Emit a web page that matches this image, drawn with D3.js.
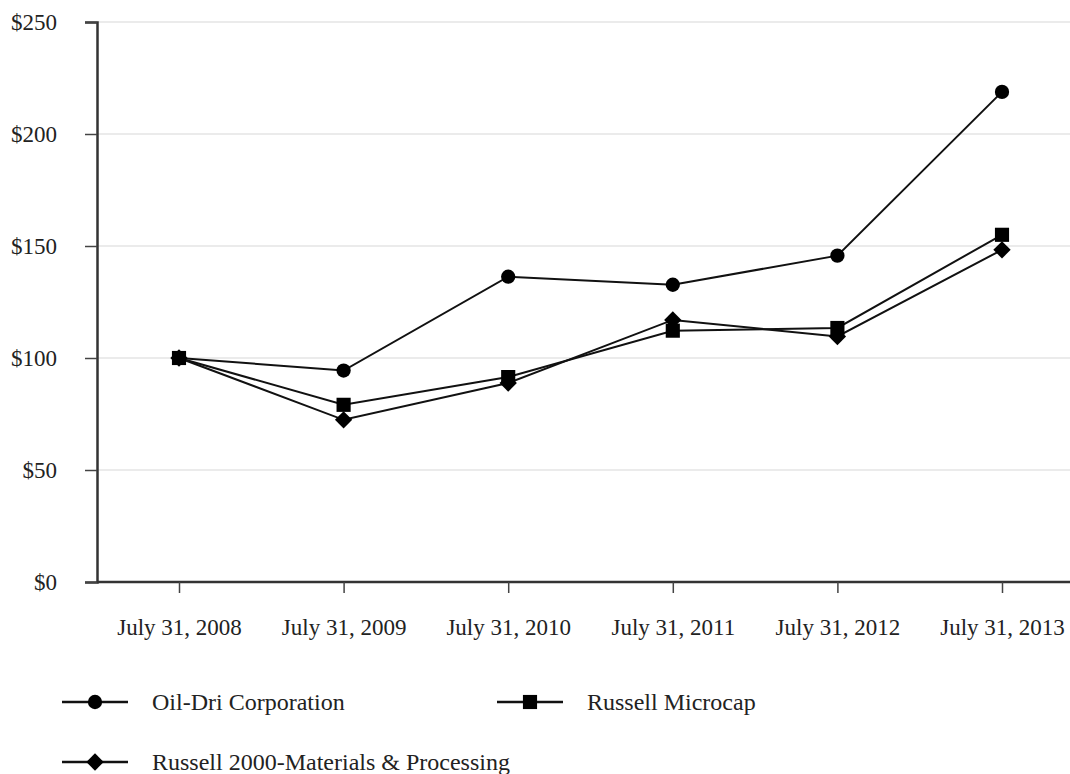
<!DOCTYPE html>
<html><head><meta charset="utf-8">
<script src="https://cdn.jsdelivr.net/npm/d3@7"></script>
<style>body{margin:0;background:#fff}svg{display:block}text{font-family:"Liberation Serif","Times New Roman",serif;fill:#222}</style>
</head><body>
<svg id="c" width="1070" height="774"></svg>
<script>
const categories = ["July 31, 2008","July 31, 2009","July 31, 2010","July 31, 2011","July 31, 2012","July 31, 2013"];
const oilDri = [100, 94.4, 136.3, 132.7, 145.7, 218.8];
const microcap = [100, 79.1, 91.5, 112.2, 113.4, 155.0];
const materials = [100, 72.4, 88.8, 117.0, 109.6, 148.3];
const yTicks = [0, 50, 100, 150, 200, 250];
const seriesNames = ["Oil-Dri Corporation", "Russell Microcap", "Russell 2000-Materials & Processing"];

const FS = 23;
const series = [
  {name: seriesNames[0], values: oilDri, sym: d3.symbolCircle, size: 160, rot: 0},
  {name: seriesNames[1], values: microcap, sym: d3.symbolSquare, size: 200, rot: 0},
  {name: seriesNames[2], values: materials, sym: d3.symbolSquare, size: 150, rot: 45}
];

const svg = d3.select("#c");
const L = 97, T = 22, B = 582;
const x = d3.scalePoint().domain(categories).range([179, 1002]);
const y = d3.scaleLinear().domain([0, 250]).range([B, T]);

svg.append("g").selectAll("line").data(yTicks.filter(d => d > 0)).join("line")
  .attr("x1", L).attr("x2", 1070).attr("y1", d => y(d)).attr("y2", d => y(d))
  .attr("stroke", "#e4e4e4").attr("stroke-width", 1.5);

const yAxis = svg.append("g").attr("transform", `translate(${L},0)`)
  .call(d3.axisLeft(y).tickValues(yTicks).tickFormat(d => "$" + d).tickSize(12).tickPadding(28));
yAxis.select(".domain").attr("stroke", "#333").attr("stroke-width", 2.5);
yAxis.selectAll(".tick line").attr("stroke", "#444").attr("stroke-width", 1.5);
yAxis.selectAll("text").attr("font-size", FS).attr("fill", "#2a2a2a").attr("font-family", "Liberation Serif");

const xAxis = svg.append("g").attr("transform", `translate(0,${B})`)
  .call(d3.axisBottom(x).tickSize(11).tickPadding(26).tickSizeOuter(0));
xAxis.select(".domain").attr("d", `M${L},0H1070`).attr("stroke", "#333").attr("stroke-width", 2.5);
xAxis.selectAll(".tick line").attr("stroke", "#444").attr("stroke-width", 1.5);
xAxis.selectAll("text").attr("font-size", FS).attr("fill", "#2a2a2a").attr("font-family", "Liberation Serif");

const line = d3.line().x((d, i) => x(categories[i])).y(d => y(d));
series.forEach(s => {
  svg.append("path").datum(s.values).attr("d", line)
    .attr("fill", "none").attr("stroke", "#111").attr("stroke-width", 2);
});
series.forEach(s => {
  svg.append("g").selectAll("path").data(s.values).join("path")
    .attr("transform", (d, i) => `translate(${x(categories[i])},${y(d)}) rotate(${s.rot})`)
    .attr("d", d3.symbol().type(s.sym).size(s.size)).attr("fill", "#000");
});

const legendPos = [[62, 702], [497, 702], [62, 762]];
series.forEach((s, i) => {
  const [lx, ly] = legendPos[i];
  const g = svg.append("g").attr("transform", `translate(${lx},${ly})`);
  g.append("line").attr("x1", 0).attr("x2", 66).attr("y1", 0).attr("y2", 0)
    .attr("stroke", "#111").attr("stroke-width", 2.5);
  g.append("path").attr("transform", `translate(33,0) rotate(${s.rot})`)
    .attr("d", d3.symbol().type(s.sym).size(s.size)).attr("fill", "#000");
  g.append("text").attr("x", 90).attr("y", 0).attr("dy", "0.35em")
    .attr("font-size", 24).attr("fill", "#2a2a2a").text(s.name);
});
</script>
</body></html>
